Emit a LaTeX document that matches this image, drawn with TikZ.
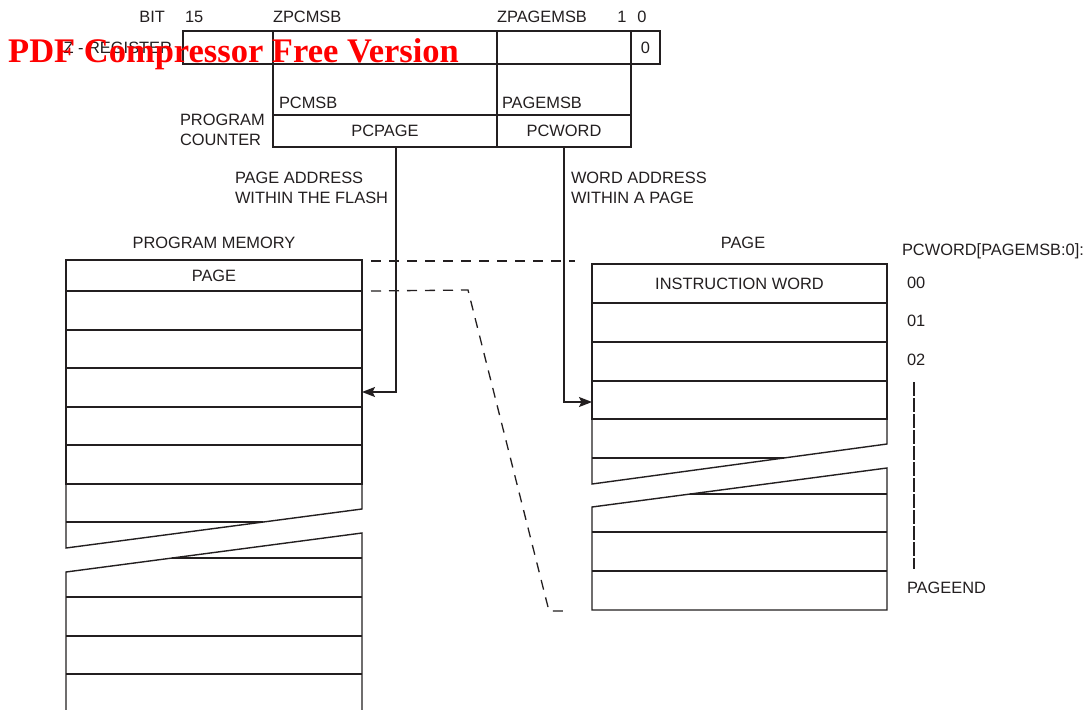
\documentclass[tikz,border=0pt]{standalone}
\usepackage{fontspec}
\setmainfont{Liberation Sans}
\newfontfamily\wmfont[BoldFont={Liberation Serif Bold}]{Liberation Serif}
\usetikzlibrary{arrows.meta}
\definecolor{ink}{HTML}{231F20}
\begin{document}
\begin{tikzpicture}[x=1pt,y=-1pt,
  txt/.style={inner sep=0pt, outer sep=0pt, font=\fontsize{16.4}{19.5}\selectfont, text=ink, text height=11.7pt, text depth=0pt},
  mtxt/.style={inner sep=0pt, outer sep=0pt, font=\fontsize{16.4}{19.5}\selectfont, text=ink, align=left},
  cell/.style={draw=ink, line width=1.1pt, inner sep=0pt, outer sep=0pt, font=\fontsize{16.4}{19.5}\selectfont, text=ink, text height=11.7pt, text depth=0pt},
  row/.style={draw=ink, line width=1.4pt, inner sep=0pt, outer sep=0pt, font=\fontsize{16.4}{19.5}\selectfont, text=ink, text height=11.7pt, text depth=0pt},
  mem/.style={draw=ink, line width=1.4pt, line join=miter},
  outer/.style={draw=ink, line width=2pt},
  conn/.style={draw=ink, line width=1.3pt, -{Stealth[length=13pt,width=10pt,inset=2.5pt]}},
  dsh/.style={draw=ink, line width=1.3pt, dash pattern=on 10pt off 8pt},
  ldsh/.style={draw=ink, line width=1.3pt, dash pattern=on 14pt off 2pt}
]
\useasboundingbox (0,0) rectangle (1088,710);
\fill[white] (0,0) rectangle (1088,710);

% ---------- Z register ----------
\node[cell, minimum width=90pt, minimum height=33pt] (zr1) at (228,47.5) {};
\node[cell, minimum width=224pt, minimum height=33pt] (zr2) at (385,47.5) {};
\node[cell, minimum width=134pt, minimum height=33pt] (zr3) at (564,47.5) {};
\node[cell, minimum width=29pt, minimum height=33pt] (zr4) at (645.5,47.5) {0};
\draw[outer] (zr1.north west) rectangle (zr4.south east);

\node[txt, anchor=east] (bit) at (165,17) {BIT};
\node[txt, anchor=west] (b15) at (185,17) {15};
\node[txt, anchor=west] (zpcmsb) at (273,17) {ZPCMSB};
\node[txt, anchor=west] (zpagemsb) at (497,17) {ZPAGEMSB};
\node[txt] (b1) at (622,17) {1};
\node[txt] (b0) at (642,17) {0};
\node[txt, anchor=east] (zreg) at (172,47.5) {Z - REGISTER};

% ---------- Program counter ----------
\node[cell, minimum width=224pt, minimum height=32pt] (pcpage) at (385,131) {PCPAGE};
\node[cell, minimum width=134pt, minimum height=32pt] (pcword) at (564,131) {PCWORD};
\draw[outer] (pcpage.north west) rectangle (pcword.south east);
\draw[draw=ink, line width=1.1pt] (zr2.south west) -- (pcpage.north west);
\draw[draw=ink, line width=1.1pt] (zr3.south west) -- (pcword.north west);
\draw[draw=ink, line width=1.1pt] (zr4.south west) -- (pcword.north east);

\node[txt, anchor=west] (pcmsb) at (279,103) {PCMSB};
\node[txt, anchor=west] (pagemsb) at (502,103) {PAGEMSB};
\node[mtxt, anchor=north west] (pclbl) at (180,114.2) {PROGRAM\\COUNTER};

\node[mtxt, anchor=north west] (pal) at (235,172.2) {PAGE ADDRESS\\WITHIN THE FLASH};
\node[mtxt, anchor=north west] (wal) at (571,172.2) {WORD ADDRESS\\WITHIN A PAGE};

% ---------- Program memory ----------
\node[txt] (pmlbl) at (214,243) {PROGRAM MEMORY};
\node[row, minimum width=296pt, minimum height=31pt] (pm1) at (214,275.5) {PAGE};
\node[row, minimum width=296pt, minimum height=39pt] (pm2) at (214,310.5) {};
\node[row, minimum width=296pt, minimum height=38pt] (pm3) at (214,349) {};
\node[row, minimum width=296pt, minimum height=39pt] (pm4) at (214,387.5) {};
\node[row, minimum width=296pt, minimum height=38pt] (pm5) at (214,426) {};
\node[row, minimum width=296pt, minimum height=39pt] (pm6) at (214,464.5) {};
\draw[mem] (pm6.south west) -- (66,548) -- (362,509) -- (pm6.south east);
\draw[mem] (66,522) -- (263,522);
\draw[mem] (66,712) -- (66,572) -- (362,533) -- (362,712);
\draw[mem] (172,558) -- (362,558);
\draw[mem] (66,597) -- (362,597);
\draw[mem] (66,636) -- (362,636);
\draw[mem] (66,674) -- (362,674);

% ---------- Page ----------
\node[txt] (pglbl) at (743,243) {PAGE};
\node[row, minimum width=295pt, minimum height=39pt] (pg1) at (739.5,283.5) {INSTRUCTION WORD};
\node[row, minimum width=295pt, minimum height=39pt] (pg2) at (739.5,322.5) {};
\node[row, minimum width=295pt, minimum height=39pt] (pg3) at (739.5,361.5) {};
\node[row, minimum width=295pt, minimum height=38pt] (pg4) at (739.5,400) {};
\draw[mem] (pg4.south west) -- (592,484) -- (887,444) -- (pg4.south east);
\draw[mem] (592,458) -- (784,458);
\draw[mem] (592,507) -- (887,468) -- (887,610) -- (592,610) -- cycle;
\draw[mem] (690,494) -- (887,494);
\draw[mem] (592,532) -- (887,532);
\draw[mem] (592,571) -- (887,571);

\node[txt, anchor=west] (pcwlbl) at (902,250) {PCWORD[PAGEMSB:0]:};
\node[txt, anchor=west] (w00) at (907,283) {00};
\node[txt, anchor=west] (w01) at (907,321) {01};
\node[txt, anchor=west] (w02) at (907,360) {02};
\node[txt, anchor=west] (wend) at (907,588) {PAGEEND};
\coordinate (v1) at (914,382);
\coordinate (v2) at (914,569);
\draw[ldsh] (v1) -- (v2);

% ---------- Connectors ----------
\draw[conn] ([xshift=11pt]pcpage.south) |- ([yshift=-4.5pt]pm4.east);
\draw[conn] (pcword.south) |- ([yshift=-2pt]pg4.west);

\coordinate (d1) at (575,261);
\coordinate (d2) at (468,290);
\coordinate (d3) at (549,611);
\coordinate (d4) at (568,611);
\draw[dsh] ([xshift=9pt,yshift=-1pt]pm1.north east) -- (d1);
\draw[dsh] ([xshift=9pt]pm1.south east) -- (d2) -- (d3) -- (d4);

% ---------- Watermark ----------
\node[anchor=base west, inner sep=0pt, text=red, font=\wmfont\bfseries\fontsize{34.5}{40}\selectfont] (wm) at (8,62) {PDF Compressor Free Version};
\end{tikzpicture}
\end{document}
